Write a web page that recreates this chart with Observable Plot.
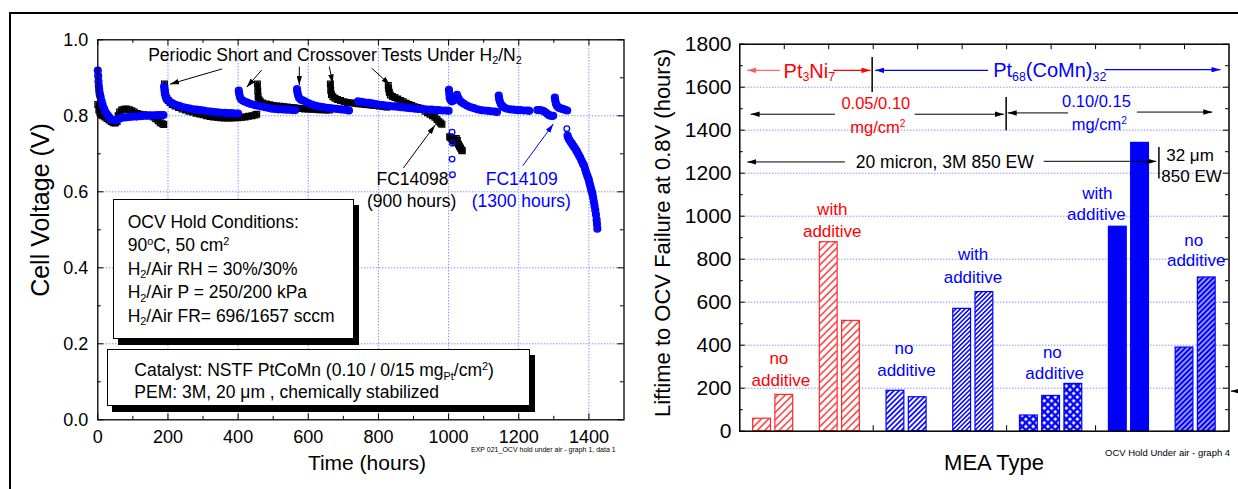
<!DOCTYPE html>
<html><head><meta charset="utf-8">
<script src="https://cdn.jsdelivr.net/npm/d3@7"></script>
<script src="https://cdn.jsdelivr.net/npm/@observablehq/plot@0.6"></script>
<style>
html,body{margin:0;padding:0;background:#fff;overflow:hidden;}
#root{position:relative;width:1238px;height:489px;font-family:"Liberation Sans",Arial,Helvetica,sans-serif;overflow:hidden;background:#fff;}
#root svg{position:absolute;left:0;top:0;}
.t{position:absolute;white-space:nowrap;line-height:1;}
.t sub,.bx sub{font-size:0.62em;position:relative;top:0.3em;vertical-align:baseline;line-height:0;}
.t sup,.bx sup{font-size:0.62em;position:relative;top:-0.55em;vertical-align:baseline;line-height:0;}
.bx{position:absolute;border:1px solid #000;background:#fff;box-sizing:border-box;white-space:nowrap;font-size:17.5px;color:#000;}
</style>
</head><body>
<svg width="0" height="0" style="position:absolute;left:0;top:0">
 <defs>
  <pattern id="pRed" patternUnits="userSpaceOnUse" width="5.2" height="5.2" patternTransform="rotate(45)">
   <rect width="5.2" height="5.2" fill="#fff"/><line x1="2.6" y1="-1" x2="2.6" y2="6.2" stroke="#ff1a1a" stroke-width="1.3"/>
  </pattern>
  <pattern id="pBlueA" patternUnits="userSpaceOnUse" width="3.7" height="3.7" patternTransform="rotate(45)">
   <rect width="3.7" height="3.7" fill="#fff"/><line x1="1.85" y1="-1" x2="1.85" y2="4.7" stroke="#0000ff" stroke-width="1.7"/>
  </pattern>
  <pattern id="pBlueB" patternUnits="userSpaceOnUse" width="3.2" height="3.2" patternTransform="rotate(45)">
   <rect width="3.2" height="3.2" fill="#fff"/><line x1="1.6" y1="-1" x2="1.6" y2="4.2" stroke="#0000ff" stroke-width="1.5"/>
  </pattern>
  <pattern id="pBlueC" patternUnits="userSpaceOnUse" width="3.7" height="3.7" patternTransform="rotate(45)">
   <rect width="3.7" height="3.7" fill="#0000ff"/><line x1="1.85" y1="-1" x2="1.85" y2="4.7" stroke="#fff" stroke-width="1.1"/>
  </pattern>
  <pattern id="pCross" patternUnits="userSpaceOnUse" width="5.2" height="5.2" patternTransform="rotate(45)">
   <rect width="5.2" height="5.2" fill="#fff"/>
   <line x1="0" y1="-1" x2="0" y2="6.2" stroke="#0000ff" stroke-width="2.4"/>
   <line x1="5.2" y1="-1" x2="5.2" y2="6.2" stroke="#0000ff" stroke-width="2.4"/>
   <line x1="-1" y1="0" x2="6.2" y2="0" stroke="#0000ff" stroke-width="2.4"/>
   <line x1="-1" y1="5.2" x2="6.2" y2="5.2" stroke="#0000ff" stroke-width="2.4"/>
  </pattern>
 </defs>
</svg>
<div id="root"></div>
<script>
// ---------------- DATA ----------------
// Left chart: OCV hold, cell voltage (V) vs time (hours); segments of [hours, volts]
const fc14098 = [ // black open squares
 [[0,0.83],[3,0.815],[6,0.808],[10,0.803],[14,0.80],[20,0.797],[26,0.793],[32,0.789],[38,0.785],[44,0.782],[50,0.781],[55,0.785],[58,0.80],[62,0.81],[68,0.815],[75,0.817],[82,0.818],[90,0.816],[97,0.813],[104,0.81],[112,0.806],[120,0.804],[130,0.803],[140,0.802],[150,0.80],[158,0.797],[165,0.792],[172,0.787],[178,0.782],[184,0.779],[188,0.777]],
 [[190,0.884],[191,0.872],[192,0.862],[194,0.852],[197,0.845],[201,0.84],[206,0.835],[212,0.83],[220,0.826],[230,0.822],[240,0.818],[250,0.815],[260,0.812],[270,0.81],[280,0.807],[290,0.805],[300,0.803],[310,0.80],[320,0.798],[330,0.797],[340,0.796],[350,0.795],[360,0.794],[370,0.794],[380,0.794],[390,0.795],[400,0.795],[410,0.796],[420,0.797],[430,0.799],[440,0.80],[448,0.802],[453,0.804]],
 [[455,0.884],[456,0.866],[457,0.85],[459,0.843],[463,0.838],[470,0.834],[480,0.831],[490,0.829],[500,0.827],[510,0.826],[520,0.825],[530,0.824],[540,0.823],[550,0.822],[560,0.821],[570,0.82],[580,0.819],[590,0.818],[600,0.818],[610,0.817],[620,0.817],[630,0.816],[640,0.816],[650,0.815],[660,0.815]],
 [[663,0.884],[664,0.867],[666,0.856],[670,0.85],[676,0.846],[683,0.843],[692,0.84],[702,0.837],[712,0.835],[722,0.834],[732,0.833],[742,0.832],[752,0.831],[762,0.83],[772,0.829],[782,0.828],[792,0.827],[802,0.826],[812,0.825],[820,0.824],[826,0.823]],
 [[828,0.88],[829,0.871],[831,0.862],[834,0.855],[840,0.851],[847,0.848],[855,0.844],[863,0.84],[871,0.837],[879,0.833],[887,0.83],[895,0.827],[903,0.824],[911,0.822],[919,0.82],[926,0.817],[933,0.812],[940,0.808],[947,0.804],[954,0.80],[961,0.796],[967,0.79],[972,0.785],[977,0.781],[981,0.778]],
 [[1003,0.745],[1006,0.742],[1010,0.738],[1014,0.735],[1018,0.73],[1022,0.74],[1025,0.735],[1028,0.725],[1031,0.72],[1034,0.715],[1037,0.71],[1039,0.708]]
];
const fc14109 = [ // blue open circles
 [[0,0.919],[1,0.905],[2,0.89],[3,0.878],[4,0.868],[5,0.86],[6,0.855],[8,0.849],[11,0.838],[14,0.828],[18,0.818],[22,0.81],[27,0.803],[32,0.797],[36,0.792],[42,0.789],[50,0.788],[56,0.79],[62,0.793],[70,0.795],[80,0.796],[90,0.797],[100,0.798],[110,0.798],[120,0.799],[130,0.80],[140,0.80],[150,0.801],[160,0.801],[170,0.802],[180,0.802],[187,0.802]],
 [[189,0.877],[190,0.868],[191,0.86],[193,0.852],[196,0.845],[200,0.84],[206,0.836],[213,0.833],[222,0.829],[232,0.826],[242,0.823],[252,0.821],[262,0.819],[272,0.817],[282,0.816],[292,0.815],[302,0.814],[312,0.812],[322,0.811],[332,0.81],[342,0.809],[352,0.808],[362,0.808],[372,0.807],[382,0.807],[392,0.806],[400,0.806]],
 [[402,0.866],[403,0.858],[405,0.85],[408,0.844],[413,0.84],[420,0.837],[428,0.834],[436,0.831],[445,0.829],[455,0.827],[465,0.825],[475,0.823],[485,0.821],[495,0.819],[505,0.818],[515,0.817],[525,0.817],[535,0.816],[545,0.816],[555,0.815],[563,0.815]],
 [[568,0.87],[569,0.862],[571,0.854],[574,0.847],[579,0.842],[586,0.84],[594,0.836],[603,0.832],[612,0.829],[622,0.826],[632,0.824],[642,0.823],[652,0.821],[662,0.82],[672,0.819],[682,0.818],[692,0.817],[702,0.816],[712,0.815],[716,0.814]],
 [[742,0.838],[752,0.837],[762,0.835],[772,0.834],[782,0.833],[792,0.831],[802,0.829],[812,0.828],[822,0.827],[832,0.826],[842,0.825],[852,0.824],[862,0.823],[872,0.822],[882,0.821],[892,0.82],[902,0.819],[912,0.818],[922,0.818],[932,0.817],[942,0.816],[952,0.816],[962,0.815],[972,0.815],[982,0.814],[992,0.814],[1000,0.813]],
 [[1001,0.868],[1002,0.858],[1003,0.848],[1005,0.842],[1009,0.838],[1014,0.84],[1019,0.847],[1024,0.855],[1027,0.848],[1031,0.841],[1036,0.836],[1043,0.832],[1052,0.827],[1062,0.823],[1072,0.82],[1082,0.817],[1092,0.815],[1102,0.814],[1112,0.813],[1122,0.812],[1132,0.811],[1138,0.81]],
 [[1143,0.853],[1144,0.845],[1146,0.838],[1149,0.831],[1153,0.826],[1158,0.822],[1165,0.819],[1175,0.817],[1185,0.816],[1195,0.815],[1205,0.815],[1215,0.814],[1225,0.814],[1230,0.813]],
 [[1253,0.815],[1260,0.815],[1266,0.814],[1272,0.812],[1278,0.808],[1283,0.804],[1288,0.801],[1293,0.80],[1298,0.80]],
 [[1303,0.848],[1304,0.84],[1306,0.832],[1309,0.826],[1313,0.822],[1318,0.82],[1324,0.818],[1331,0.816],[1338,0.814]],
 [[1339,0.748],[1341,0.742],[1344,0.737],[1348,0.731],[1352,0.726],[1356,0.72],[1360,0.715],[1364,0.709],[1367,0.704],[1371,0.697],[1375,0.69],[1379,0.682],[1383,0.674],[1386,0.669],[1389,0.66],[1392,0.651],[1395,0.643],[1398,0.636],[1400,0.63],[1402,0.622],[1404,0.615],[1406,0.608],[1408,0.601],[1410,0.595],[1412,0.585],[1414,0.574],[1416,0.563],[1418,0.552],[1420,0.54],[1422,0.526],[1423,0.515],[1424,0.503]]
];
const fc14109Isolated = [[1010,0.757],[1011,0.728],[1010,0.686],[1011,0.645],[1337,0.766]];
const hourTicks = [0,200,400,600,800,1000,1200,1400];
const voltTicks = [0,0.2,0.4,0.6,0.8,1.0];

// Right chart: lifetime to OCV failure at 0.8 V (hours) per MEA
const meaSlot  = [1,2,4,5,7,8,10,11,13,14,15,17,18,20,21];
const lifetime = [58,169,879,513,188,158,569,647,73,164,220,951,1341,389,715];
const meaGroup = ["Pt3Ni7 no additive","Pt3Ni7 no additive","Pt3Ni7 with additive","Pt3Ni7 with additive",
  "PtCoMn 0.05/0.10 no additive","PtCoMn 0.05/0.10 no additive","PtCoMn 0.05/0.10 with additive","PtCoMn 0.05/0.10 with additive",
  "PtCoMn 0.10/0.15 no additive","PtCoMn 0.10/0.15 no additive","PtCoMn 0.10/0.15 no additive",
  "PtCoMn 0.10/0.15 with additive","PtCoMn 0.10/0.15 with additive","32 um 850 EW no additive","32 um 850 EW no additive"];
const lifeTicks = [0,200,400,600,800,1000,1200,1400,1600,1800];

// ---------------- STYLE ----------------
const BLUE = "#0000ff", RED = "#ff0000";
const groupStyle = {
  "Pt3Ni7 no additive": {fill: "url(#pRed)", stroke: "#ff2a2a"},
  "Pt3Ni7 with additive": {fill: "url(#pRed)", stroke: "#ff2a2a"},
  "PtCoMn 0.05/0.10 no additive": {fill: "url(#pBlueA)", stroke: BLUE},
  "PtCoMn 0.05/0.10 with additive": {fill: "url(#pBlueB)", stroke: BLUE},
  "PtCoMn 0.10/0.15 no additive": {fill: "url(#pCross)", stroke: BLUE},
  "PtCoMn 0.10/0.15 with additive": {fill: BLUE, stroke: BLUE},
  "32 um 850 EW no additive": {fill: "url(#pBlueC)", stroke: BLUE}
};
const GRID = {stroke: "#5a5aff", strokeOpacity: 1, strokeDasharray: "1,2", strokeWidth: 1};
const FONT = '"Liberation Sans", Arial, Helvetica, sans-serif';
const root = document.getElementById("root");

function frameTicks(xs, ys, W, H, len) {
  const o = {stroke: "#000", strokeWidth: 1};
  const out = [];
  if (xs) {
    out.push(Plot.tickX(xs, {x: d => d, insetTop: H - len, ...o}));
    out.push(Plot.tickX(xs, {x: d => d, insetBottom: H - len, ...o}));
  }
  if (ys) {
    out.push(Plot.tickY(ys, {y: d => d, insetRight: W - len, ...o}));
    out.push(Plot.tickY(ys, {y: d => d, insetLeft: W - len, ...o}));
  }
  return out;
}

// ---------------- LEFT PLOT ----------------
const LL = 97.3, LR = 623.5, LT = 39.3, LB = 419.3;
const flat = segs => segs.flatMap((s, i) => s.map(([t, v]) => ({t, v, seg: i})));
const blackPts = flat(fc14098), bluePts = flat(fc14109);
const isoPts = fc14109Isolated.map(([t, v]) => ({t, v}));

const left = Plot.plot({
  width: 1238, height: 489,
  marginLeft: LL, marginRight: 1238 - LR, marginTop: LT, marginBottom: 489 - LB,
  x: {domain: [0, 1500], label: null, axis: null},
  y: {domain: [0, 1], label: null, axis: null},
  style: {background: "none", fontFamily: FONT, color: "#000", overflow: "visible"},
  marks: [
    Plot.gridX(hourTicks.filter(d => d > 0), GRID),
    Plot.gridY(voltTicks.filter(d => d > 0 && d < 1), GRID),
    ...frameTicks(hourTicks, voltTicks, LR - LL, LB - LT, 6),
    ...frameTicks(d3.range(100, 1500, 200), d3.range(0.1, 1, 0.2), LR - LL, LB - LT, 3.5),
    Plot.axisX(hourTicks, {tickSize: 0, tickPadding: 10.5, fontSize: 18, label: null, tickFormat: d => String(d)}),
    Plot.axisY(voltTicks, {tickSize: 0, tickPadding: 9.5, fontSize: 18, label: null, tickFormat: d => d.toFixed(1)}),
    Plot.line(blackPts, {x: "t", y: "v", z: "seg", stroke: "#000", strokeWidth: 5}),
    Plot.dot(blackPts, {x: "t", y: "v", symbol: "square", r: 3.2, stroke: "#000", strokeWidth: 1.3, fill: "none"}),
    Plot.line(bluePts, {x: "t", y: "v", z: "seg", stroke: BLUE, strokeWidth: 6}),
    Plot.dot(bluePts, {x: "t", y: "v", r: 3.4, stroke: BLUE, strokeWidth: 1.4, fill: "none"}),
    Plot.dot(isoPts, {x: "t", y: "v", r: 2.8, stroke: BLUE, strokeWidth: 1.3, fill: "none"}),
    Plot.frame({stroke: "#000", strokeWidth: 1.3})
  ]
});
root.appendChild(left);

// ---------------- RIGHT PLOT ----------------
const RL = 739.3, RR = 1228.5, RT = 43.7, RB = 430.7;
const bars = meaSlot.map((s, i) => ({slot: s, hours: lifetime[i], group: meaGroup[i]}));
const right = Plot.plot({
  width: 1238, height: 489,
  marginLeft: RL, marginRight: 1238 - RR, marginTop: RT, marginBottom: 489 - RB,
  x: {domain: [0, 22], label: null, axis: null},
  y: {domain: [0, 1800], label: null, axis: null},
  color: {type: "identity"},
  style: {background: "none", fontFamily: FONT, color: "#000", overflow: "visible"},
  marks: [
    Plot.gridY(lifeTicks.filter(d => d > 0 && d < 1800), GRID),
    ...frameTicks(d3.range(2, 22, 2), lifeTicks, RR - RL, RB - RT, 5.5),
    ...frameTicks(null, d3.range(100, 1800, 200), RR - RL, RB - RT, 3.5),
    Plot.rect(bars, {x1: d => d.slot - 0.4, x2: d => d.slot + 0.4, y1: 0, y2: "hours",
      fill: d => groupStyle[d.group].fill, stroke: d => groupStyle[d.group].stroke, strokeWidth: 1.2}),
    Plot.axisY(lifeTicks, {tickSize: 0, tickPadding: 8.3, fontSize: 21, label: null, tickFormat: d => String(d)}),
    Plot.frame({stroke: "#000", strokeWidth: 1.5})
  ]
});
root.appendChild(right);

// ---------------- ANNOTATIONS ----------------
const sc = (p, k) => { const s = p.scale(k); return d3.scaleLinear(s.domain, s.range); };
const lx = sc(left, "x"), ly = sc(left, "y"), rx = sc(right, "x"), ry = sc(right, "y");
const L = ([t, v]) => [lx(t), ly(v)];
const R = ([s, h]) => [rx(s), ry(h)];

const ov = d3.select(root).append("svg").attr("width", 1238).attr("height", 489);
const defs = ov.append("defs");
function mk(id, color) {
  defs.append("marker").attr("id", id).attr("viewBox", "0 0 10 10").attr("refX", 10).attr("refY", 5)
    .attr("markerUnits", "userSpaceOnUse").attr("markerWidth", 9).attr("markerHeight", 5.5)
    .attr("preserveAspectRatio", "none").attr("orient", "auto")
    .append("path").attr("d", "M0,0L10,5L0,10Z").attr("fill", color);
}
mk("hk", "#000"); mk("hb", BLUE); mk("hr", RED); mk("hp", "#ff5a5a");
function arrow(a, b, color = "#000", head = "hk", w = 1) {
  const ln = ov.append("line").attr("x1", a[0]).attr("y1", a[1]).attr("x2", b[0]).attr("y2", b[1])
    .attr("stroke", color).attr("stroke-width", w);
  if (head) ln.attr("marker-end", `url(#${head})`);
}
// left arrows
[[[355.5,0.922],[207.2,0.882]],[[468.6,0.919],[425.9,0.874]],[[575.8,0.928],[575.8,0.880]],
 [[661.3,0.928],[671,0.884]],[[782.2,0.924],[834.4,0.880]],[[872.3,0.661],[962.7,0.774]]]
 .forEach(([a, b]) => arrow(L(a), L(b)));
arrow(L([1212.7,0.667]), L([1300,0.777]), BLUE, "hb");
// right arrows
arrow(R([1.83,1676]), R([0.36,1676]), "#ff6a6a", "hp", 1.2);
arrow(R([4.22,1676]), R([5.90,1676]), RED, "hr", 1.2);
arrow(R([5.975,1738]), R([5.975,1575]), "#000", null, 1.5);
arrow(R([11.19,1676]), R([6.11,1676]), BLUE, "hb", 1.2);
arrow(R([16.43,1679]), R([21.64,1679]), BLUE, "hb", 1.2);
arrow(R([4.30,1472]), R([0.51,1472]));
arrow(R([7.88,1472]), R([11.90,1472]));
arrow(R([12.0,1552]), R([12.0,1397]), "#000", null, 1.5);
arrow(R([14.78,1478]), R([12.07,1478]));
arrow(R([17.88,1482]), R([21.27,1482]));
arrow(R([4.75,1250]), R([0.36,1250]));
arrow(R([13.69,1253]), R([18.75,1253]));
arrow(R([18.87,1320]), R([18.87,1173]), "#000", null, 1.5);
arrow(R([22.6,184]), R([22.11,184]));

function txt(html, [x, y], {size = 17.5, color = "#000", anchor = "middle", rotate = 0} = {}) {
  const d = document.createElement("div");
  d.className = "t";
  d.innerHTML = html;
  d.style.left = x + "px"; d.style.top = y + "px";
  d.style.fontSize = size + "px"; d.style.color = color;
  const tx = anchor === "middle" ? "-50%" : anchor === "end" ? "-100%" : "0";
  d.style.transform = `translate(${tx},-50%)` + (rotate ? ` rotate(${rotate}deg)` : "");
  root.appendChild(d);
}
function box(a, b, lines, padL, padT, lh, shadow) {
  const [x1, y1] = a, [x2, y2] = b;
  const d = document.createElement("div");
  d.className = "bx";
  Object.assign(d.style, {left: x1 + "px", top: y1 + "px", width: (x2 - x1) + "px", height: (y2 - y1) + "px",
    paddingLeft: padL + "px", paddingTop: padT + "px", lineHeight: lh + "px", boxShadow: shadow});
  d.innerHTML = lines.join("<br>");
  root.appendChild(d);
}

// left texts
txt("Periodic Short and Crossover Tests Under H<sub>2</sub>/N<sub>2</sub>", L([145,0.956]), {anchor: "start"});
txt("FC14098", L([898.5,0.630]));
txt("(900 hours)", L([896.2,0.573]));
txt("FC14109", L([1209.8,0.630]), {color: BLUE});
txt("(1300 hours)", L([1208.7,0.573]), {color: BLUE});
box(L([43.9,0.579]), L([732.6,0.2105]), [
  "OCV Hold Conditions:",
  "90<sup>o</sup>C, 50 cm<sup>2</sup>",
  "H<sub>2</sub>/Air RH = 30%/30%",
  "H<sub>2</sub>/Air P = 250/200 kPa",
  "H<sub>2</sub>/Air FR= 696/1657 sccm"], 14, 10.6, 23.5, "5px 6px 0 0 #000");
box(L([28.5,0.184]), L([1233,0.035]), [
  "Catalyst: NSTF PtCoMn (0.10 / 0/15 mg<sub>Pt</sub>/cm<sup>2</sup>)",
  "PEM: 3M, 20 &mu;m , chemically stabilized"], 26, 10, 21.7, "5px 6px 0 0 #000");

// right texts
txt("Pt<sub>3</sub>Ni<sub>7</sub>", R([3.15,1675]), {size: 20, color: RED});
txt("Pt<sub>68</sub>(CoMn)<sub>32</sub>", R([13.96,1678]), {size: 20, color: BLUE});
txt("0.05/0.10", R([6.14,1524]), {size: 16.5, color: RED});
txt("mg/cm<sup>2</sup>", R([6.23,1413]), {size: 16.5, color: RED});
txt("0.10/0.15", R([16.06,1532]), {size: 16.5, color: BLUE});
txt("mg/cm<sup>2</sup>", R([16.19,1428]), {size: 16.5, color: BLUE});
txt("20 micron, 3M 850 EW", R([9.24,1247]));
txt("32 &mu;m", R([19.2,1281]), {size: 17, anchor: "start"});
txt("850 EW", R([18.98,1185]), {size: 17, anchor: "start"});
const groupLabels = [
  ["no", [1.78,336], "additive", [1.87,236], RED],
  ["with", [4.18,1033], "additive", [4.18,929], RED],
  ["no", [7.41,383], "additive", [7.52,282], BLUE],
  ["with", [10.51,820], "additive", [10.51,716], BLUE],
  ["no", [14.08,364], "additive", [14.18,270], BLUE],
  ["with", [16.1,1106], "additive", [16.06,1010], BLUE],
  ["no", [20.44,889], "additive", [20.55,793], BLUE]
];
groupLabels.forEach(([a, pa, b, pb, c]) => { txt(a, R(pa), {size: 17, color: c}); txt(b, R(pb), {size: 17, color: c}); });

// axis titles and notes
txt("Cell Voltage (V)", [40, 210], {size: 25, rotate: -90});
txt("Time (hours)", [367, 461.7], {size: 21});
txt("Liftime to OCV Failure at 0.8V (hours)", [663, 233], {size: 22, rotate: -90});
txt("MEA Type", [994, 463], {size: 22});
txt("EXP 021_OCV hold under air - graph 1, data 1", [471, 449], {size: 7, anchor: "start"});
txt("OCV Hold Under air - graph 4", [1105, 453.3], {size: 9.5, anchor: "start"});

// outer slide frame
const fr = document.createElement("div");
Object.assign(fr.style, {position: "absolute", left: "9px", top: "12px", width: "1400px", height: "600px",
  borderLeft: "2px solid #000", borderTop: "2px solid #000"});
root.appendChild(fr);
</script>
</body></html>
